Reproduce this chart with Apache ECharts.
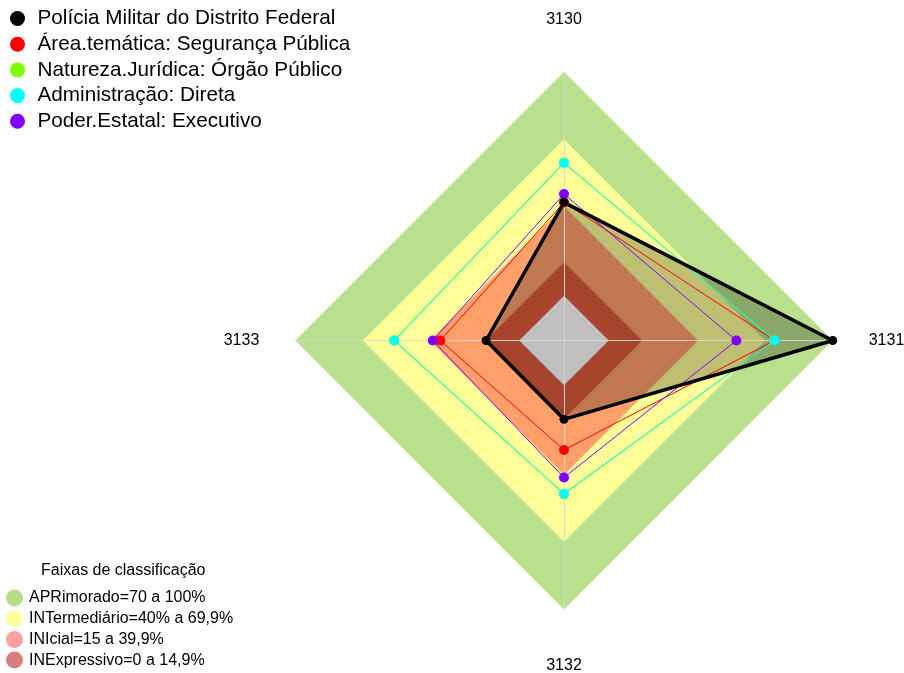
<!DOCTYPE html>
<html>
<head>
<meta charset="utf-8">
<script src="https://cdn.jsdelivr.net/npm/echarts@6/dist/echarts.min.js"></script>
<style>
  html, body { margin: 0; padding: 0; background: #fff; }
  #chart { width: 904px; height: 673px; }
</style>
</head>
<body>
<div id="chart"></div>
<script>
// eixos na ordem: topo, direita, baixo, esquerda
const indicadores = ['3130', '3131', '3132', '3133'];

const nomesSeries = [
  'Polícia Militar do Distrito Federal',
  'Área.temática: Segurança Pública',
  'Natureza.Jurídica: Órgão Público',
  'Administração: Direta',
  'Poder.Estatal: Executivo'
];
const pmdf = [41.7, 100, 15.2, 14.8];
const areaTematica = [41.7, 74.1, 28.9, 35.2];
const naturezaJuridica = [59.5, 74, 48.6, 56];
const administracao = [59.3, 74.1, 48.4, 55.7];
const poderEstatal = [45.4, 57, 41.2, 38.6];

// faixas de classificação (limite superior de cada faixa)
const nomesFaixas = [
  'APRimorado=70 a 100%',
  'INTermediário=40% a 69,9%',
  'INIcial=15 a 39,9%',
  'INExpressivo=0 a 14,9%'
];
const limitesFaixas = [100, 69.9, 39.9, 14.9];

const fonte = "'Liberation Sans', Arial, sans-serif";
const coresSeries = ['#000000', '#ff0000', '#80ff00', '#00ffff', '#8000ff'];
const coresFaixas = ['#b9e08c', '#ffff99', '#ffa06a', '#dd5a3b'];
const coresLegendaFaixas = ['#b5dd8a', '#ffff9e', '#ff9e9e', '#d67e7e'];

// echarts distribui os eixos no sentido anti-horário
function ordemRadar(v) {
  return [v[0], v[3], v[2], v[1]];
}

const valoresSeries = [pmdf, areaTematica, naturezaJuridica, administracao, poderEstatal];

const dadosFaixas = limitesFaixas.map(function (lim, i) {
  return {
    name: nomesFaixas[i],
    value: ordemRadar([lim, lim, lim, lim]),
    itemStyle: { color: coresFaixas[i] },
    lineStyle: { width: 0, opacity: 0 },
    areaStyle: { color: coresFaixas[i], opacity: 1 }
  };
});
dadosFaixas.push({
  name: 'centro',
  value: [0, 0, 0, 0],
  itemStyle: { color: '#fff' },
  lineStyle: { width: 0, opacity: 0 },
  areaStyle: { color: '#ffffff', opacity: 1 }
});
// preenchimento da PMDF fica por baixo das outras linhas
dadosFaixas.push({
  name: 'pmdf-area',
  value: ordemRadar(pmdf),
  itemStyle: { color: '#000' },
  lineStyle: { width: 0, opacity: 0 },
  areaStyle: { color: 'rgba(0,0,0,0.25)', opacity: 1 }
});

const dadosSeries = valoresSeries.map(function (v, i) {
  return {
    name: nomesSeries[i],
    value: ordemRadar(v),
    symbol: 'circle',
    symbolSize: i === 0 ? 9 : 10,
    itemStyle: { color: coresSeries[i], borderWidth: 0 },
    lineStyle: { color: coresSeries[i], width: i === 0 ? 3.5 : 1 }
  };
});
// linha preta desenhada por cima
dadosSeries.push(dadosSeries.shift());

const myChart = echarts.init(document.getElementById('chart'));
myChart.setOption({
  animation: false,
  textStyle: { fontFamily: fonte },
  radar: {
    z: 2,
    center: [564, 340.5],
    radius: 268.7,
    startAngle: 90,
    shape: 'polygon',
    splitNumber: 1,
    nameGap: 36,
    axisName: {
      color: '#000',
      fontSize: 16,
      fontFamily: fonte,
      padding: [12, 0, 8, 0]
    },
    indicator: ordemRadar(indicadores).map(function (n) {
      return { name: n, min: -20, max: 100 };
    }),
    axisLine: { lineStyle: { color: 'rgba(215,215,215,0.9)', width: 1 } },
    splitLine: { show: false },
    splitArea: { show: false },
    axisTick: { show: false },
    axisLabel: { show: false }
  },
  legend: [
    {
      orient: 'vertical',
      left: 10,
      top: 8,
      padding: 0,
      icon: 'circle',
      itemWidth: 15,
      itemHeight: 15,
      itemGap: 4.7,
      selectedMode: false,
      textStyle: { fontSize: 20.7, color: '#000', fontFamily: fonte, padding: [0, 0, 0, 7.5] },
      data: nomesSeries.map(function (n, i) {
        return { name: n, itemStyle: { color: coresSeries[i], borderWidth: 0 } };
      })
    },
    {
      orient: 'vertical',
      left: 6,
      top: 589.5,
      padding: 0,
      icon: 'circle',
      itemWidth: 17,
      itemHeight: 17,
      itemGap: 3.7,
      selectedMode: false,
      textStyle: { fontSize: 16, color: '#000', fontFamily: fonte, padding: [0, 0, 0, 1] },
      data: nomesFaixas.map(function (n, i) {
        return { name: n, itemStyle: { color: coresLegendaFaixas[i], borderWidth: 0 } };
      })
    }
  ],
  graphic: [
    {
      type: 'text',
      left: 41,
      top: 563,
      style: {
        text: 'Faixas de classificação',
        fontSize: 16,
        fontFamily: fonte,
        fill: '#000'
      }
    }
  ],
  series: [
    {
      name: 'faixas',
      type: 'radar',
      z: 1,
      silent: true,
      symbol: 'none',
      data: dadosFaixas
    },
    {
      name: 'dados',
      type: 'radar',
      z: 3,
      data: dadosSeries
    }
  ]
});
</script>
</body>
</html>
